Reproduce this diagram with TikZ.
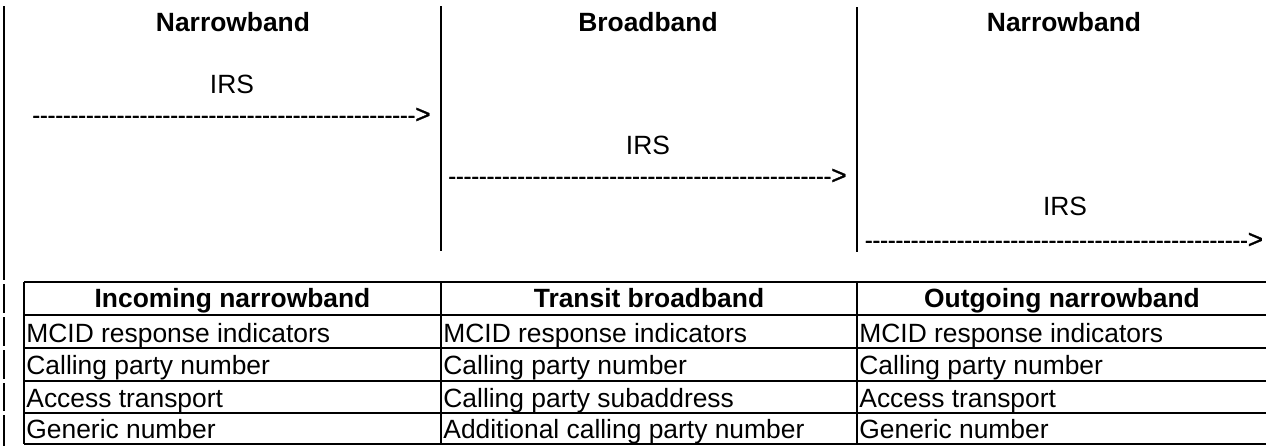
\documentclass[tikz,border=0pt]{standalone}
\usepackage{fontspec}
\setmainfont{Liberation Sans}
\newfontfamily\plainarial{Liberation Sans}[FakeBold=1.2]
\newcommand\dashrow{--------------------------------------------------{\fontsize{13}{15}\selectfont>}}
\begin{document}
\begin{tikzpicture}[x=0.5pt,y=-0.5pt,
  txt/.style={font=\fontsize{13.2}{15}\selectfont, inner sep=0pt},
  head/.style={font=\fontsize{13.2}{15}\selectfont\bfseries, inner sep=0pt, anchor=base},
  lbl/.style={txt, anchor=base},
  dashtxt/.style={font=\fontsize{11.5}{13}\selectfont\plainarial, inner sep=0pt, anchor=base west},
  cell/.style={txt, anchor=base west},
  rulel/.style={line width=1pt},
  bar/.style={line width=1pt}]
\useasboundingbox (0,0) rectangle (1266,446);
% vertical separators
\draw[rulel] (441,6) -- (441,251);
\draw[rulel] (857,7) -- (857,252);
% change bar on left
\draw[bar] (3.5,6) -- (3.5,280);
\draw[bar] (3.5,284) -- (3.5,313);
\draw[bar] (3.5,317) -- (3.5,346);
\draw[bar] (3.5,350) -- (3.5,379);
\draw[bar] (3.5,383) -- (3.5,411);
\draw[bar] (3.5,415) -- (3.5,446);
% headings
\node[head] (h1) at (233,31.5) {Narrowband};
\node[head] (h2) at (648,31.5) {Broadband};
\node[head] (h3) at (1064,31.5) {Narrowband};
% IRS labels
\node[lbl] (i1) at (232,93) {IRS};
\node[lbl] (i2) at (648,154) {IRS};
\node[lbl] (i3) at (1065,215) {IRS};
% dashed text arrows
\node[dashtxt] (a1) at (32,123) {\dashrow};
\node[dashtxt] (a2) at (448,184) {\dashrow};
\node[dashtxt] (a3) at (864.5,248) {\dashrow};
% table
\foreach \y in {282,315,348,380.5,413,444}
  \draw[rulel] (24,\y) -- (1267,\y);
\draw[rulel] (24,282) -- (24,444);
\draw[rulel] (441,282) -- (441,444);
\draw[rulel] (857,282) -- (857,444);
\node[head] (t1) at (232.5,307) {Incoming narrowband};
\node[head] (t2) at (649,307) {Transit broadband};
\node[head] (t3) at (1062,307) {Outgoing narrowband};
\node[cell] (c11) at (26,342) {MCID response indicators};
\node[cell] (c12) at (26,374.5) {Calling party number};
\node[cell] (c13) at (26,407) {Access transport};
\node[cell] (c14) at (26,438.5) {Generic number};
\node[cell] (c21) at (443,342) {MCID response indicators};
\node[cell] (c22) at (443,374.5) {Calling party number};
\node[cell] (c23) at (443,407) {Calling party subaddress};
\node[cell] (c24) at (443,438.5) {Additional calling party number};
\node[cell] (c31) at (859,342) {MCID response indicators};
\node[cell] (c32) at (859,374.5) {Calling party number};
\node[cell] (c33) at (859,407) {Access transport};
\node[cell] (c34) at (859,438.5) {Generic number};
\end{tikzpicture}
\end{document}
